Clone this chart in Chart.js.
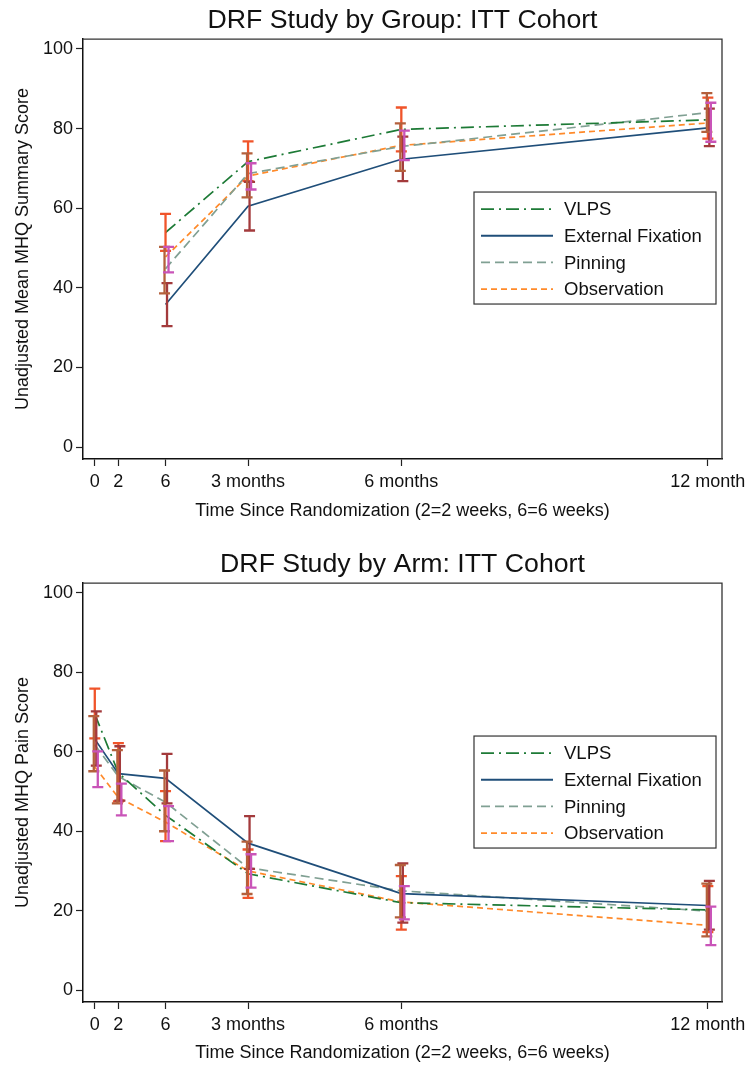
<!DOCTYPE html>
<html lang="en">
<head>
<meta charset="UTF-8">
<title>DRF Study: ITT Cohort</title>
<script src="https://cdn.jsdelivr.net/npm/chart.js"></script>
<style>
  body { margin: 0; background: #fff; width: 747px; height: 1068px; overflow: hidden; }
  canvas { position: absolute; left: 0; }
  #topChart { top: 0; }
  #bottomChart { top: 530px; }
</style>
</head>
<body>
<canvas id="topChart" width="747" height="530"></canvas>
<canvas id="bottomChart" width="747" height="538"></canvas>
<script>
// ---- data (weeks since randomization) ----
const groups = ['VLPS', 'External Fixation', 'Pinning', 'Observation'];
const tickWeeks = [0, 2, 6, 13, 26, 52];
const tickLabels = ['0', '2', '6', '3 months', '6 months', '12 month'];
const yTicks = [0, 20, 40, 60, 80, 100];

// MHQ summary score
const summaryWeeks = [6, 13, 26, 52];
const summaryMean = [
  [53.9, 71.7, 79.8, 82.2],   // VLPS
  [35.8, 60.5, 72.3, 80.2],   // External Fixation
  [44.8, 68.7, 75.5, 84.0],   // Pinning
  [47.8, 68.1, 75.8, 81.4]    // Observation
];
const summaryLo = [
  [49.3, 66.8, 74.3, 77.5],
  [30.4, 54.4, 66.8, 75.6],
  [38.6, 62.7, 69.4, 79.2],
  [43.9, 64.7, 72.1, 76.7]
];
const summaryHi = [
  [58.6, 76.8, 85.3, 87.8],
  [41.2, 66.6, 78.0, 85.0],
  [50.3, 73.8, 81.3, 88.9],
  [50.3, 71.3, 79.5, 86.5]
];

// MHQ pain score
const painWeeks = [0, 2, 6, 13, 26, 52];
const painMean = [
  [69.5, 54.7, 44.0, 29.3, 22.0, 20.2],
  [63.2, 54.5, 53.3, 37.0, 24.3, 21.3],
  [61.8, 53.8, 47.3, 30.8, 25.0, 19.9],
  [56.2, 48.5, 42.3, 30.0, 22.2, 16.3]
];
const painLo = [
  [63.4, 47.5, 37.5, 23.2, 15.2, 14.6],
  [56.5, 47.7, 47.0, 30.5, 17.0, 15.2],
  [55.1, 47.0, 40.0, 24.2, 18.3, 13.5],
  [51.1, 44.0, 37.5, 25.8, 17.8, 11.3]
];
const painHi = [
  [75.9, 62.2, 50.1, 35.4, 28.7, 26.2],
  [70.2, 61.4, 59.5, 43.8, 31.9, 27.5],
  [69.0, 60.4, 55.3, 37.4, 31.5, 26.8],
  [60.1, 52.0, 46.3, 34.2, 26.2, 21.0]
];

// ---- styles ----
const FONT = '"Liberation Sans", Arial, sans-serif';
const lineColors = ['#1d7a36', '#1f4e79', '#80a093', '#ff8a2a'];
const lineDashes = [[13, 5, 2, 5], [], [9, 5], [6, 4]];
const ciColors = ['#f0542a', '#a33a3c', '#b4603c', '#c954b8'];
const ciNudge = [0, 1.5, -1, 3];

Chart.defaults.font.family = FONT;
Chart.defaults.color = '#111';

const errorBars = {
  id: 'errorBars',
  afterDatasetsDraw(chart) {
    const { ctx, scales: { x, y } } = chart;
    chart.data.datasets.forEach((ds) => {
      ctx.save();
      ctx.strokeStyle = ds.ciColor;
      ctx.lineWidth = 2.3;
      ds.data.forEach((p, j) => {
        const px = x.getPixelForValue(p.x) + ds.ciNudge;
        const lo = y.getPixelForValue(ds.ciLo[j]);
        const hi = y.getPixelForValue(ds.ciHi[j]);
        ctx.beginPath();
        ctx.moveTo(px, lo); ctx.lineTo(px, hi);
        ctx.moveTo(px - 5.5, lo); ctx.lineTo(px + 5.5, lo);
        ctx.moveTo(px - 5.5, hi); ctx.lineTo(px + 5.5, hi);
        ctx.stroke();
      });
      ctx.restore();
    });
  }
};

const plotFrame = {
  id: 'plotFrame',
  afterDraw(chart) {
    const { ctx, chartArea: a } = chart;
    ctx.save();
    ctx.strokeStyle = '#333';
    ctx.lineWidth = 1.3;
    ctx.beginPath();
    ctx.moveTo(a.left, a.top); ctx.lineTo(a.right, a.top); ctx.lineTo(a.right, a.bottom);
    ctx.stroke();
    ctx.restore();
  }
};

const boxLegend = {
  id: 'boxLegend',
  afterDraw(chart) {
    const { ctx, chartArea: a } = chart;
    const left = a.left + 391, top = a.top + 153, w = 242, h = 112;
    ctx.save();
    ctx.fillStyle = '#fff';
    ctx.fillRect(left, top, w, h);
    ctx.strokeStyle = '#333';
    ctx.lineWidth = 1.2;
    ctx.strokeRect(left, top, w, h);
    ctx.font = '18.5px ' + FONT;
    ctx.textBaseline = 'middle';
    chart.data.datasets.forEach((ds, i) => {
      const yy = top + 17 + i * 26.7;
      ctx.strokeStyle = ds.borderColor;
      ctx.lineWidth = 1.8;
      ctx.setLineDash(ds.borderDash);
      ctx.beginPath();
      ctx.moveTo(left + 7, yy); ctx.lineTo(left + 79, yy);
      ctx.stroke();
      ctx.setLineDash([]);
      ctx.fillStyle = '#111';
      ctx.fillText(ds.label, left + 90, yy + 1);
    });
    ctx.restore();
  }
};

function makeChart(id, title, yTitle, weeks, means, los, his, layout) {
  const datasets = groups.map((g, i) => ({
    label: g,
    data: weeks.map((w, j) => ({ x: w, y: means[i][j] })),
    borderColor: lineColors[i],
    borderDash: lineDashes[i],
    borderWidth: 1.7,
    pointRadius: 0,
    tension: 0,
    fill: false,
    ciLo: los[i],
    ciHi: his[i],
    ciColor: ciColors[i],
    ciNudge: ciNudge[i]
  }));
  return new Chart(document.getElementById(id), {
    type: 'line',
    data: { datasets },
    plugins: [errorBars, plotFrame, boxLegend],
    options: {
      responsive: false,
      animation: false,
      devicePixelRatio: 1,
      layout: { padding: { left: 0, right: 25, top: 0, bottom: 0 } },
      plugins: {
        legend: { display: false },
        tooltip: { enabled: false },
        title: {
          display: true,
          fullSize: false,
          text: title,
          color: '#111',
          font: { size: 26.7, weight: 'normal', lineHeight: 1.05 },
          padding: layout.titlePad
        }
      },
      scales: {
        x: {
          type: 'linear',
          min: -1,
          max: 53.2,
          afterBuildTicks: (s) => { s.ticks = tickWeeks.map((v) => ({ value: v })); },
          afterFit: (s) => { s.height = layout.xHeight; s.paddingLeft = 0; s.paddingRight = 0; },
          ticks: {
            autoSkip: false,
            maxRotation: 0,
            padding: 5,
            color: '#111',
            font: { size: 18 },
            callback: (v) => tickLabels[tickWeeks.indexOf(v)]
          },
          grid: { drawOnChartArea: false, tickLength: 7, tickColor: '#222', tickWidth: 1.2 },
          border: { color: '#111', width: 1.5 },
          title: {
            display: true,
            text: 'Time Since Randomization (2=2 weeks, 6=6 weeks)',
            color: '#111',
            font: { size: 18 },
            padding: { top: 0, bottom: layout.xTitlePad }
          }
        },
        y: {
          min: -3,
          max: 102.5,
          afterBuildTicks: (s) => { s.ticks = yTicks.map((v) => ({ value: v })); },
          afterFit: (s) => { s.width = 83; s.paddingTop = 0; s.paddingBottom = 0; },
          ticks: { padding: 3, color: '#111', font: { size: 18 } },
          grid: { drawOnChartArea: false, tickLength: 7, tickColor: '#222', tickWidth: 1.2 },
          border: { color: '#111', width: 1.5 },
          title: {
            display: true,
            text: yTitle,
            color: '#111',
            font: { size: 18 },
            padding: { top: 12, bottom: 0 }
          }
        }
      }
    }
  });
}

// title block = 26.7 * 1.05 + padding -> chart area top at ~39 / ~53
makeChart('topChart', 'DRF Study by Group: ITT Cohort', 'Unadjusted Mean MHQ Summary Score',
  summaryWeeks, summaryMean, summaryLo, summaryHi,
  { titlePad: { top: 6.5, bottom: 4.5 }, xHeight: 71, xTitlePad: 8 });

makeChart('bottomChart', 'DRF Study by Arm: ITT Cohort', 'Unadjusted MHQ Pain Score',
  painWeeks, painMean, painLo, painHi,
  { titlePad: { top: 21, bottom: 4 }, xHeight: 66, xTitlePad: 4 });
</script>
</body>
</html>
